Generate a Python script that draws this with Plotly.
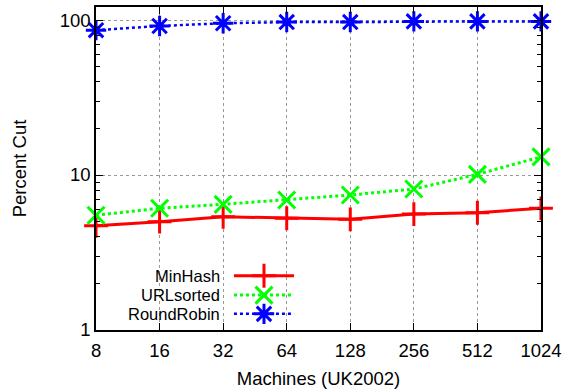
import math
import plotly.graph_objects as go

machines = [8, 16, 32, 64, 128, 256, 512, 1024]
minhash = [4.7, 5.0, 5.38, 5.26, 5.18, 5.6, 5.71, 6.1]
urlsorted = [5.5, 6.1, 6.47, 6.9, 7.43, 8.12, 10.1, 13.1]
roundrobin = [86, 91.5, 95.3, 97, 97, 98, 98, 98]
names = ["MinHash", "URLsorted", "RoundRobin"]
colors = ["#ff0000", "#00ff00", "#0000ff"]
symbols = ["cross-thin", "x-thin", "asterisk"]
dashes = ["solid", "dot", "dot"]
widths = [3, 3, 2.5]
series = [minhash, urlsorted, roundrobin]

FS = 18.5
LFS = 16.5
fig = go.Figure()
for s, n, c, sym, d, w in zip(series, names, colors, symbols, dashes, widths):
    fig.add_trace(go.Scatter(
        x=machines, y=s, name=n, mode="lines+markers",
        line=dict(color=c, width=w, dash=d),
        marker=dict(symbol=sym, size=17, line=dict(color=c, width=3)),
        cliponaxis=False, showlegend=False))

# manual legend (gnuplot style: text on the left, sample on the right)
leg_y = [0.168, 0.108, 0.05]
for n, c, sym, d, w, ly in zip(names, colors, symbols, dashes, widths, leg_y):
    fig.add_trace(go.Scatter(
        x=[0.31, 0.445], y=[ly, ly], xaxis="x2", yaxis="y2", mode="lines",
        line=dict(color=c, width=w, dash=d), showlegend=False, hoverinfo="skip"))
    fig.add_trace(go.Scatter(
        x=[0.3775], y=[ly], xaxis="x2", yaxis="y2", mode="markers",
        marker=dict(symbol=sym, size=17, line=dict(color=c, width=3)),
        showlegend=False, hoverinfo="skip", cliponaxis=False))
    fig.add_annotation(x=0.283, y=ly, xref="x2", yref="y2", text=n,
                       showarrow=False, xanchor="right", yanchor="middle",
                       font=dict(size=LFS, color="black"))

minor_vals = [k * 10 ** e for e in range(0, 3) for k in range(2, 10)]
eps = 1e-4
fig.update_layout(
    width=567, height=390,
    margin=dict(l=96, r=26, t=7, b=60),
    plot_bgcolor="white", paper_bgcolor="white",
    font=dict(family="Liberation Sans, Arial, sans-serif", size=FS, color="black"),
    xaxis=dict(type="log", range=[math.log10(8) - eps, math.log10(1024) + eps],
               tickvals=machines, ticktext=[str(m) for m in machines],
               ticks="inside", ticklen=7, tickcolor="black",
               tickfont=dict(size=FS), ticklabelstandoff=3, automargin=False,
               showline=True, linecolor="black", linewidth=1.5, mirror="ticks",
               showgrid=True, gridcolor="#999999", griddash="dot", gridwidth=1,
               zeroline=False,
               title=dict(text="Machines (UK2002)", standoff=12, font=dict(size=FS))),
    yaxis=dict(type="log", range=[0, 2.084],
               tickvals=[1, 10, 100], ticktext=["1", "10", "100"],
               ticks="inside", ticklen=7, tickcolor="black",
               tickfont=dict(size=FS), automargin=False,
               minor=dict(tickvals=minor_vals, ticks="inside", ticklen=4,
                          tickcolor="black", showgrid=False),
               showline=True, linecolor="black", linewidth=1.5, mirror="ticks",
               showgrid=True, gridcolor="#999999", griddash="dot", gridwidth=1,
               zeroline=False,
               title=dict(text="Percent Cut", standoff=28, font=dict(size=FS))),
    xaxis2=dict(overlaying="x", range=[0, 1], visible=False, fixedrange=True),
    yaxis2=dict(overlaying="y", range=[0, 1], visible=False, fixedrange=True),
)
fig.write_html("out.html")
